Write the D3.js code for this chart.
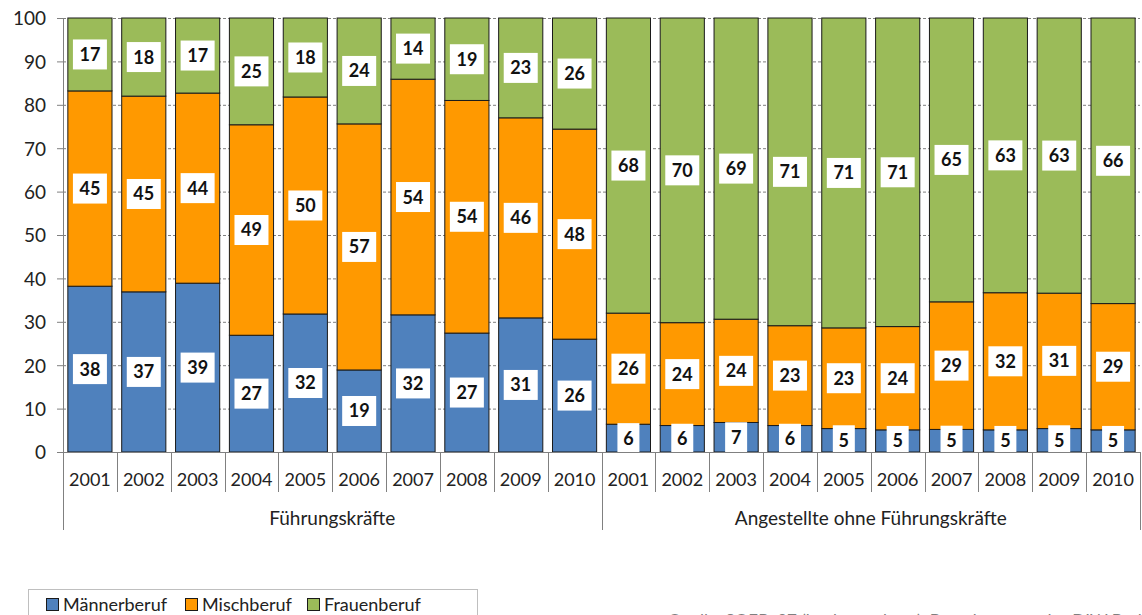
<!DOCTYPE html>
<html>
<head>
<meta charset="utf-8">
<script src="https://cdn.jsdelivr.net/npm/d3@7"></script>
<style>
  body { margin: 0; background: #fff; }
  svg { display: block; font-family: Lato, 'Open Sans', sans-serif; }
</style>
</head>
<body>
<div id="chart"></div>
<script>
const years = ['2001', '2002', '2003', '2004', '2005', '2006', '2007', '2008', '2009', '2010']
const groups = ['Führungskräfte', 'Angestellte ohne Führungskräfte']
const seriesNames = ['Männerberuf', 'Mischberuf', 'Frauenberuf']
const colors = ['#4f81bd', '#ff9900', '#9bbb59']
const yTicks = [0, 10, 20, 30, 40, 50, 60, 70, 80, 90, 100]

// Führungskräfte
const maennerFk = [38.2, 36.9, 38.9, 26.9, 31.8, 18.9, 31.6, 27.4, 30.9, 26.0]
const mischFk = [45.0, 45.1, 43.8, 48.5, 50.0, 56.7, 54.3, 53.6, 46.1, 48.4]
const frauenFk = [16.8, 18.0, 17.3, 24.6, 18.2, 24.4, 14.1, 19.0, 23.0, 25.6]
// Angestellte ohne Führungskräfte
const maennerAng = [6.4, 6.1, 6.8, 6.1, 5.4, 5.1, 5.2, 5.1, 5.4, 5.1]
const mischAng = [25.6, 23.7, 23.8, 23.0, 23.2, 23.8, 29.4, 31.6, 31.2, 29.1]
const frauenAng = [68.0, 70.2, 69.4, 70.9, 71.4, 71.1, 65.4, 63.3, 63.4, 65.8]

const rows = []
years.forEach((yr, i) => rows.push({ key: 'fk-' + yr, year: yr, group: 0, 'Männerberuf': maennerFk[i], 'Mischberuf': mischFk[i], 'Frauenberuf': frauenFk[i] }))
years.forEach((yr, i) => rows.push({ key: 'ang-' + yr, year: yr, group: 1, 'Männerberuf': maennerAng[i], 'Mischberuf': mischAng[i], 'Frauenberuf': frauenAng[i] }))

const W = 1142
const H = 615
const margin = { top: 18, left: 63, right: 2, bottom: 163 }
const width = W - margin.left - margin.right
const height = H - margin.top - margin.bottom

const svg = d3.select('#chart').append('svg')
  .attr('width', W)
  .attr('height', H)

const x = d3.scaleBand().domain(rows.map(d => d.key)).range([0, width]).paddingInner(0.18).paddingOuter(0.09)
const y = d3.scaleLinear().domain([0, 100]).range([height, 0])
const step = x.step()

const g = svg.append('g').attr('transform', `translate(${margin.left},${margin.top})`)

// gridlines
g.append('g').selectAll('line').data(yTicks.filter(t => t > 0)).enter().append('line')
  .attr('x1', 0).attr('x2', width)
  .attr('y1', d => y(d) + 0.5).attr('y2', d => y(d) + 0.5)
  .attr('stroke', '#7f7f7f')
  .attr('stroke-dasharray', '3,2')

// bars
const stacked = d3.stack().keys(seriesNames)(rows)
const layers = g.selectAll('.layer').data(stacked).enter().append('g')
  .attr('class', 'layer')
  .attr('fill', (d, i) => colors[i])

layers.selectAll('rect').data(d => d).enter().append('rect')
  .attr('x', d => x(d.data.key))
  .attr('y', d => y(d[1]))
  .attr('width', x.bandwidth())
  .attr('height', d => y(d[0]) - y(d[1]))
  .attr('stroke', '#1a1a1a')
  .attr('stroke-width', 1)

// data labels
const labelData = []
stacked.forEach(layer => layer.forEach(d => {
  labelData.push({ key: d.data.key, v: Math.round(d[1] - d[0]), mid: (d[0] + d[1]) / 2 })
}))
const labels = g.append('g').selectAll('g').data(labelData).enter().append('g')
  .attr('transform', d => `translate(${x(d.key) + x.bandwidth() / 2},${y(d.mid)})`)
labels.append('rect')
  .attr('x', d => String(d.v).length > 1 ? -17 : -11)
  .attr('width', d => String(d.v).length > 1 ? 34 : 22)
  .attr('y', -15)
  .attr('height', 30)
  .attr('fill', '#fff')
labels.append('text')
  .attr('text-anchor', 'middle')
  .attr('dy', '0.36em')
  .attr('font-size', 18)
  .attr('font-weight', 'bold')
  .attr('fill', '#111')
  .text(d => d.v)

// y axis
g.append('line')
  .attr('x1', 0.5).attr('x2', 0.5)
  .attr('y1', 0).attr('y2', height + 78)
  .attr('stroke', '#808080')
const yt = g.append('g').selectAll('g').data(yTicks).enter().append('g')
  .attr('transform', d => `translate(0,${y(d) + 0.5})`)
yt.append('line').attr('x1', -6).attr('x2', 0).attr('stroke', '#808080')
yt.append('text')
  .attr('x', -17)
  .attr('dy', '0.36em')
  .attr('text-anchor', 'end')
  .attr('font-size', 19)
  .attr('fill', '#222')
  .text(d => d)

// x axis
g.append('line')
  .attr('x1', 0).attr('x2', width)
  .attr('y1', height + 0.5).attr('y2', height + 0.5)
  .attr('stroke', '#808080')

g.append('g').selectAll('line').data(d3.range(1, rows.length + 1)).enter().append('line')
  .attr('x1', d => Math.round(d * step) + 0.5)
  .attr('x2', d => Math.round(d * step) + 0.5)
  .attr('y1', height)
  .attr('y2', d => d % 10 === 0 ? height + 78 : height + 40)
  .attr('stroke', '#808080')

g.append('g').selectAll('text').data(rows).enter().append('text')
  .attr('x', d => x(d.key) + x.bandwidth() / 2)
  .attr('y', height + 34)
  .attr('text-anchor', 'middle')
  .attr('font-size', 18)
  .attr('fill', '#222')
  .text(d => d.year)

g.append('g').selectAll('text').data(groups).enter().append('text')
  .attr('x', (d, i) => (i + 0.5) * step * years.length)
  .attr('y', height + 73)
  .attr('text-anchor', 'middle')
  .attr('font-size', 19)
  .attr('fill', '#222')
  .text(d => d)

// legend
const legend = svg.append('g').attr('transform', 'translate(28,589)')
legend.append('rect')
  .attr('x', 0.5).attr('y', 0.5)
  .attr('width', 449).attr('height', 40)
  .attr('fill', '#fff')
  .attr('stroke', '#bfbfbf')
const legendX = [18, 157, 279]
const items = legend.selectAll('.item').data(seriesNames).enter().append('g')
  .attr('transform', (d, i) => `translate(${legendX[i]},9)`)
items.append('rect')
  .attr('width', 12).attr('height', 12)
  .attr('y', 0.5).attr('x', 0.5)
  .attr('fill', (d, i) => colors[i])
  .attr('stroke', '#1a1a1a')
items.append('text')
  .attr('x', 17)
  .attr('y', 7)
  .attr('dy', '0.36em')
  .attr('font-size', 18)
  .attr('fill', '#222')
  .text(d => d)

// source (cut off at the bottom edge, as in the original)
svg.append('text')
  .attr('x', 668)
  .attr('y', 627)
  .attr('font-size', 17)
  .attr('fill', '#7f7f7f')
  .text('Quelle: SOEPv27 (hochgerechnet), Berechnungen des DIW Berlin.')
</script>
</body>
</html>
